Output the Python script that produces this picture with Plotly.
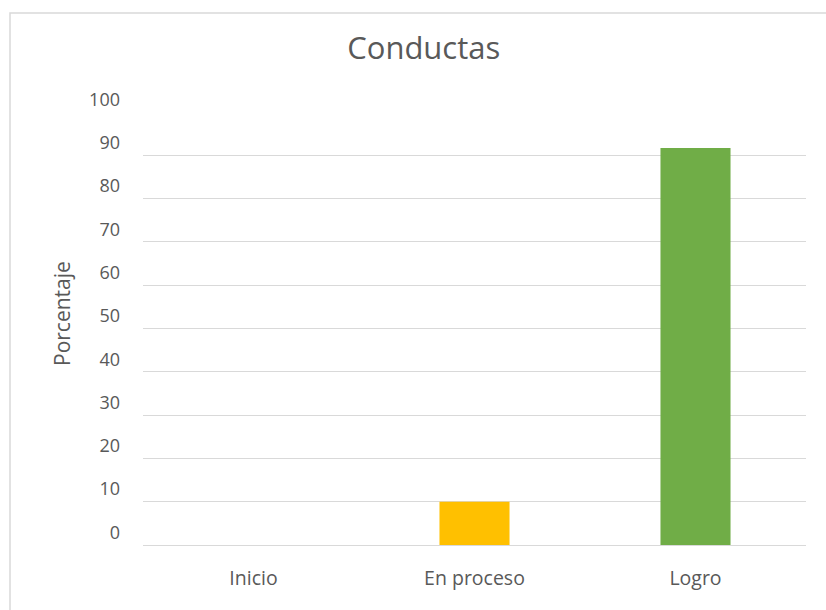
import plotly.graph_objects as go

categories = ["Inicio", "En proceso", "Logro"]
values = [0, 10, 91.7]
colors = ["#4472C4", "#FFC000", "#70AD47"]
tick_vals = [0, 10, 20, 30, 40, 50, 60, 70, 80, 90, 100]

fig = go.Figure()
fig.add_trace(go.Bar(x=categories, y=values, marker_color=colors, marker_line_width=0, width=0.317))

font_family = "Open Sans, Liberation Sans, sans-serif"
fig.update_layout(
    width=826, height=610,
    margin=dict(l=143, r=20, t=112, b=65),
    paper_bgcolor="white", plot_bgcolor="white",
    showlegend=False,
    title=dict(text="Conductas", x=0.513, xanchor="center", y=0.921, yanchor="middle",
               font=dict(family=font_family, size=31, color="#595959")),
    font=dict(family=font_family, color="#595959"),
    xaxis=dict(showline=False, showgrid=False, ticks="", tickfont=dict(size=19.5, color="#595959"),
               ticklabelstandoff=19),
    yaxis=dict(range=[0, 100], tickvals=tick_vals, showgrid=True, gridcolor="#D9D9D9", gridwidth=1,
               zeroline=True, zerolinecolor="#D9D9D9", zerolinewidth=1, showline=False, ticks="",
               tickfont=dict(size=18, color="#595959"), ticklabelposition="outside top",
               ticklabelstandoff=22),
    annotations=[dict(text="Porcentaje", textangle=-90, xref="paper", yref="paper",
                      x=(62 - 143) / 663, y=1 - (314 - 112) / 433, xanchor="center", yanchor="middle",
                      showarrow=False, font=dict(size=21, color="#595959", family=font_family))],
    shapes=[dict(type="rect", xref="paper", yref="paper", x0=(10 - 143) / 663, x1=1.2,
                 y0=-0.3, y1=1 + (112 - 13) / 433, line=dict(color="#D9D9D9", width=1.5),
                 fillcolor="rgba(0,0,0,0)", layer="below")],
)

fig.write_html("out.html", config={"displayModeBar": False},
               post_script="document.body.style.margin='0';document.body.style.overflow='hidden';")
